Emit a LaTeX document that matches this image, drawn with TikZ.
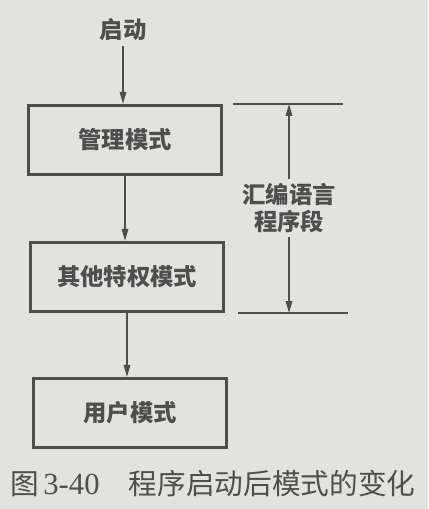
\documentclass[tikz,border=0pt]{standalone}
\usepackage{fontspec}
\setmainfont{Liberation Serif}
\newfontfamily\cjk{Noto Sans CJK SC}
\usetikzlibrary{arrows.meta}
\definecolor{paper}{RGB}{226,226,223}
\definecolor{ink}{RGB}{78,78,78}

\begin{document}
\begin{tikzpicture}[
        x=0.75pt, y=-0.75pt,
        every node/.append style={text=ink, font=\cjk\bfseries\fontsize{17.5}{20}\selectfont},
        modebox/.style={draw=ink, line width=2.2pt, minimum width=145pt, minimum height=52pt},
        flow/.style={draw=ink, line width=0.9pt, -{Triangle[length=9pt,width=5pt]}},
        dimline/.style={draw=ink, line width=0.9pt}
    ]
    \fill[paper] (0,0) rectangle (428,509);
    % mode boxes
    \node (start) at (123,30) {启动};
    \node[modebox] (svc) at (125,140) {管理模式};
    \node[modebox] (priv) at (127,277) {其他特权模式};
    \node[modebox] (usr) at (130,413) {用户模式};
    \draw[flow] (start.south) -- (start.south |- svc.north);
    \draw[flow] (svc.south) -- (svc.south |- priv.north);
    \draw[flow] (priv.south) -- (priv.south |- usr.north);
    % dimension on the right
    \coordinate (topL) at (233,104);
    \coordinate (topR) at (343,104);
    \coordinate (botL) at (238,313);
    \coordinate (botR) at (348,313);
    \draw[dimline] (topL) -- (topR);
    \draw[dimline] (botL) -- (botR);
    \node[align=center] (asm) at (289,208) {汇编语言\\程序段};
    \draw[flow] (asm.north) -- (asm.north |- topL);
    \draw[flow] (asm.south) -- (asm.south |- botL);
    % caption
    \node[anchor=west, font=\cjk\fontsize{21.5}{24}\selectfont] (cap) at (6,484)
        {图\hspace{3pt}{\rmfamily\fontsize{23}{24}\selectfont 3-40}\hspace{22pt}程序启动后模式的变化};
\end{tikzpicture}
\end{document}
